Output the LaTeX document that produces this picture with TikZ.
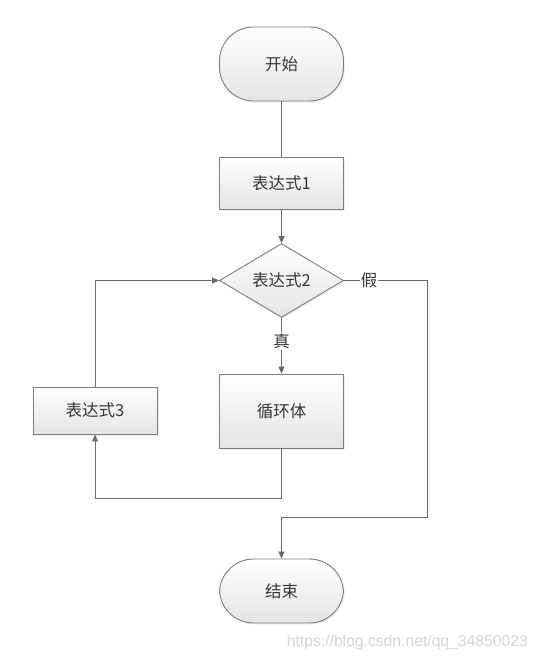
\documentclass[tikz,border=0pt]{standalone}
\usepackage{fontspec}
\newfontfamily\cjk{Noto Sans CJK SC}
\newfontfamily\wm{Liberation Sans}
\usetikzlibrary{shapes.geometric,arrows.meta,shadows}
\definecolor{edgec}{RGB}{105,105,105}
\definecolor{borderc}{RGB}{125,125,125}
\definecolor{txtc}{RGB}{55,55,55}
\definecolor{fillbot}{RGB}{228,228,228}
\tikzset{
  shp/.style={draw=borderc, line width=0.9pt, top color=white, bottom color=fillbot,
    text=txtc, font=\cjk\fontsize{16.5}{18}\selectfont, inner sep=0pt,
    drop shadow={opacity=0.12, shadow xshift=1.5pt, shadow yshift=-1.5pt}},
  term/.style={shp, minimum width=124pt, rounded corners=34pt},
  procbox/.style={shp, rectangle, minimum width=124pt},
  decide/.style={shp, diamond, minimum width=124pt, minimum height=73pt},
  ln/.style={draw=edgec, line width=0.9pt},
  arr/.style={ln, -{Triangle[length=7pt,width=6pt]}},
  lbl/.style={text=txtc, font=\cjk\fontsize{16.5}{18}\selectfont, inner sep=1pt}
}
\begin{document}
\begin{tikzpicture}[x=1pt,y=-1pt]
\useasboundingbox[fill=white] (0,0) rectangle (538,661);
\node[term, minimum height=74pt] (start) at (281.5,64) {开始};
\node[procbox, minimum height=52pt] (b1) at (281.5,183) {表达式1};
\node[decide] (d) at (281.5,280.5) {表达式2};
\node[procbox, minimum height=74pt] (body) at (281.5,411) {循环体};
\node[procbox, minimum height=47pt] (b3) at (95,410.5) {表达式3};
\node[term, minimum height=64pt] (end) at (281.5,591) {结束};
\node[lbl] (f) at (369,280.5) {假};
\node[lbl] (t) at (281.5,341) {真};
\coordinate (c1) at (427.5,280.5);
\coordinate (c2) at (427.5,517);
\coordinate (c3) at (281.5,517);
\coordinate (lb) at (95,498);
\node[font=\wm\fontsize{15.7}{18}\selectfont, text=black!16, anchor=east, inner sep=0pt] (wmk) at (528,642) {https://blog.csdn.net/qq\_34850023};

\draw[ln] (start.south) -- (b1.north);
\draw[arr] (b1.south) -- (d.north);
\draw[ln] (d.east) -- (f.west);
\draw[ln] (f.east) -- (c1) -- (c2) -- (c3);
\draw[arr] (c3) -- (end.north);
\draw[ln] (d.south) -- (t.north);
\draw[arr] (t.south) -- (body.north);
\draw[arr] (body.south) |- (lb) -- (b3.south);
\draw[arr] (b3.north) |- (d.west);
\end{tikzpicture}
\end{document}
